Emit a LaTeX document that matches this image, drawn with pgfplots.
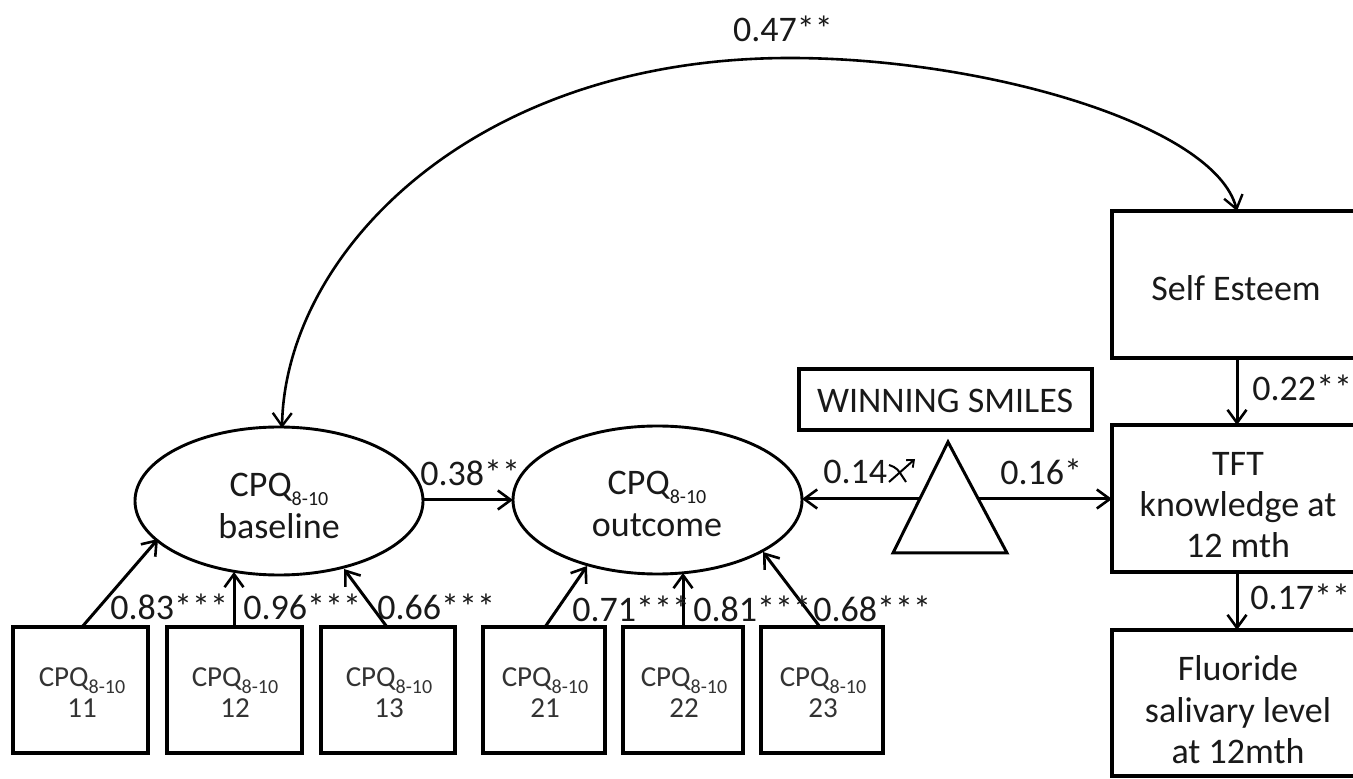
\documentclass[border=0pt]{standalone}
\usepackage{pgfplots}
\pgfplotsset{compat=1.18}
\usepackage{fontspec}
\setmainfont{Carlito}
\usetikzlibrary{arrows.meta}
\newcommand{\sub}[1]{\raisebox{-0.5ex}{\fontsize{10}{10}\selectfont #1}}
\begin{document}
\begin{tikzpicture}[
  arr/.style={line width=1.5pt, -{Straight Barb[length=6.5pt,width=9.5pt,line width=1.3pt]}},
  box/.style={line width=1.7pt},
  lbl/.style={font=\fontsize{18}{20.7}\selectfont, inner sep=0pt, text=black!90},
  sbl/.style={font=\fontsize{14.5}{15.5}\selectfont, inner sep=0pt, align=center, text=black!80},
]
\begin{axis}[scale only axis, width=676.5pt, height=389.5pt,
  xmin=0, xmax=1353, ymin=0, ymax=779, y dir=reverse,
  axis lines=none, clip=false]

% ---- curved covariance arrow
\draw[line width=1.3pt, {Straight Barb[length=6.5pt,width=9.5pt,line width=1.2pt]}-{Straight Barb[length=6.5pt,width=9.5pt,line width=1.2pt]}]
  (axis cs:282,428) .. controls (axis cs:285,255) and (axis cs:470,58) .. (axis cs:790,58)
  .. controls (axis cs:985,58) and (axis cs:1215,125) .. (axis cs:1237,211);
\node[lbl] at (axis cs:783,29) {0.47**};

% ---- latent ellipses
\draw[line width=1.45pt] (axis cs:279,501) ellipse [x radius=72pt, y radius=37pt];
\draw[line width=1.45pt] (axis cs:657.5,500) ellipse [x radius=72.25pt, y radius=37pt];
\node[lbl, align=center] at (axis cs:279,506) {CPQ\sub{8-10}\\baseline};
\node[lbl, align=center] at (axis cs:657,504) {CPQ\sub{8-10}\\outcome};

% ---- baseline -> outcome
\addplot[arr] coordinates {(423,500) (513,500)};
\node[lbl, anchor=west] at (axis cs:420,473) {0.38**};

% ---- indicator boxes
\draw[box] (axis cs:13,627) rectangle (axis cs:148,753);
\draw[box] (axis cs:167,627) rectangle (axis cs:302,753);
\draw[box] (axis cs:321,627) rectangle (axis cs:455,753);
\draw[box] (axis cs:483,627) rectangle (axis cs:605,753);
\draw[box] (axis cs:623,627) rectangle (axis cs:743,753);
\draw[box] (axis cs:761,627) rectangle (axis cs:883,753);
\node[sbl] at (axis cs:82,693) {CPQ\sub{8-10}\\11};
\node[sbl] at (axis cs:235,693) {CPQ\sub{8-10}\\12};
\node[sbl] at (axis cs:389,693) {CPQ\sub{8-10}\\13};
\node[sbl] at (axis cs:545,693) {CPQ\sub{8-10}\\21};
\node[sbl] at (axis cs:684,693) {CPQ\sub{8-10}\\22};
\node[sbl] at (axis cs:823,693) {CPQ\sub{8-10}\\23};

% ---- loadings
\addplot[arr] coordinates {(82,627) (158,539)};
\addplot[arr] coordinates {(234,627) (234,572)};
\addplot[arr] coordinates {(387,627) (344,569)};
\addplot[arr] coordinates {(545,627) (587,566)};
\addplot[arr] coordinates {(683,627) (683,573)};
\addplot[arr] coordinates {(820,627) (763,552)};
\node[lbl, anchor=west] at (axis cs:110,607) {0.83***};
\node[lbl, anchor=west] at (axis cs:243,607) {0.96***};
\node[lbl, anchor=west] at (axis cs:377,607) {0.66***};
\node[lbl, anchor=west] at (axis cs:572,609) {0.71***};
\node[lbl, anchor=west] at (axis cs:693,609) {0.81***};
\node[lbl, anchor=west] at (axis cs:813,609) {0.68***};

% ---- winning smiles
\draw[box] (axis cs:799,369) rectangle (axis cs:1092,430);
\node[lbl] at (axis cs:945,401) {WINNING SMILES};
\draw[line width=1.5pt, line join=miter] (axis cs:948,442) -- (axis cs:893,553) -- (axis cs:1007,553) -- cycle;
\addplot[arr] coordinates {(920,499) (802,499)};
\addplot[arr] coordinates {(977,499) (1112,499)};
\node[lbl, anchor=west] at (axis cs:823,472) {0.14};
\draw[line width=1pt, -{Straight Barb[length=3pt,width=5pt,line width=0.9pt]}] (axis cs:889,482) -- (axis cs:915,459);
\draw[line width=1pt] (axis cs:889,465) .. controls (axis cs:897,468) .. (axis cs:906,482);
\node[lbl, anchor=west] at (axis cs:1000,472) {0.16*};

% ---- right column
\draw[box] (axis cs:1380,211) -- (axis cs:1112,211) -- (axis cs:1112,358) -- (axis cs:1380,358);
\node[lbl] at (axis cs:1236,288) {Self Esteem};
\addplot[arr] coordinates {(1237,358) (1237,425)};
\node[lbl, anchor=west] at (axis cs:1252,388) {0.22**};
\draw[box] (axis cs:1380,425) -- (axis cs:1112,425) -- (axis cs:1112,572) -- (axis cs:1380,572);
\node[lbl, align=center] at (axis cs:1238,505) {TFT\\knowledge at\\12 mth};
\addplot[arr] coordinates {(1237,572) (1237,630)};
\node[lbl, anchor=west] at (axis cs:1250,597) {0.17**};
\draw[box] (axis cs:1380,630) -- (axis cs:1112,630) -- (axis cs:1112,776) -- (axis cs:1380,776);
\node[lbl, align=center] at (axis cs:1238,710) {Fluoride\\salivary level\\at 12mth};
\end{axis}
\pgfresetboundingbox
\path (current axis.south west) rectangle (current axis.north east);
\end{tikzpicture}
\end{document}
